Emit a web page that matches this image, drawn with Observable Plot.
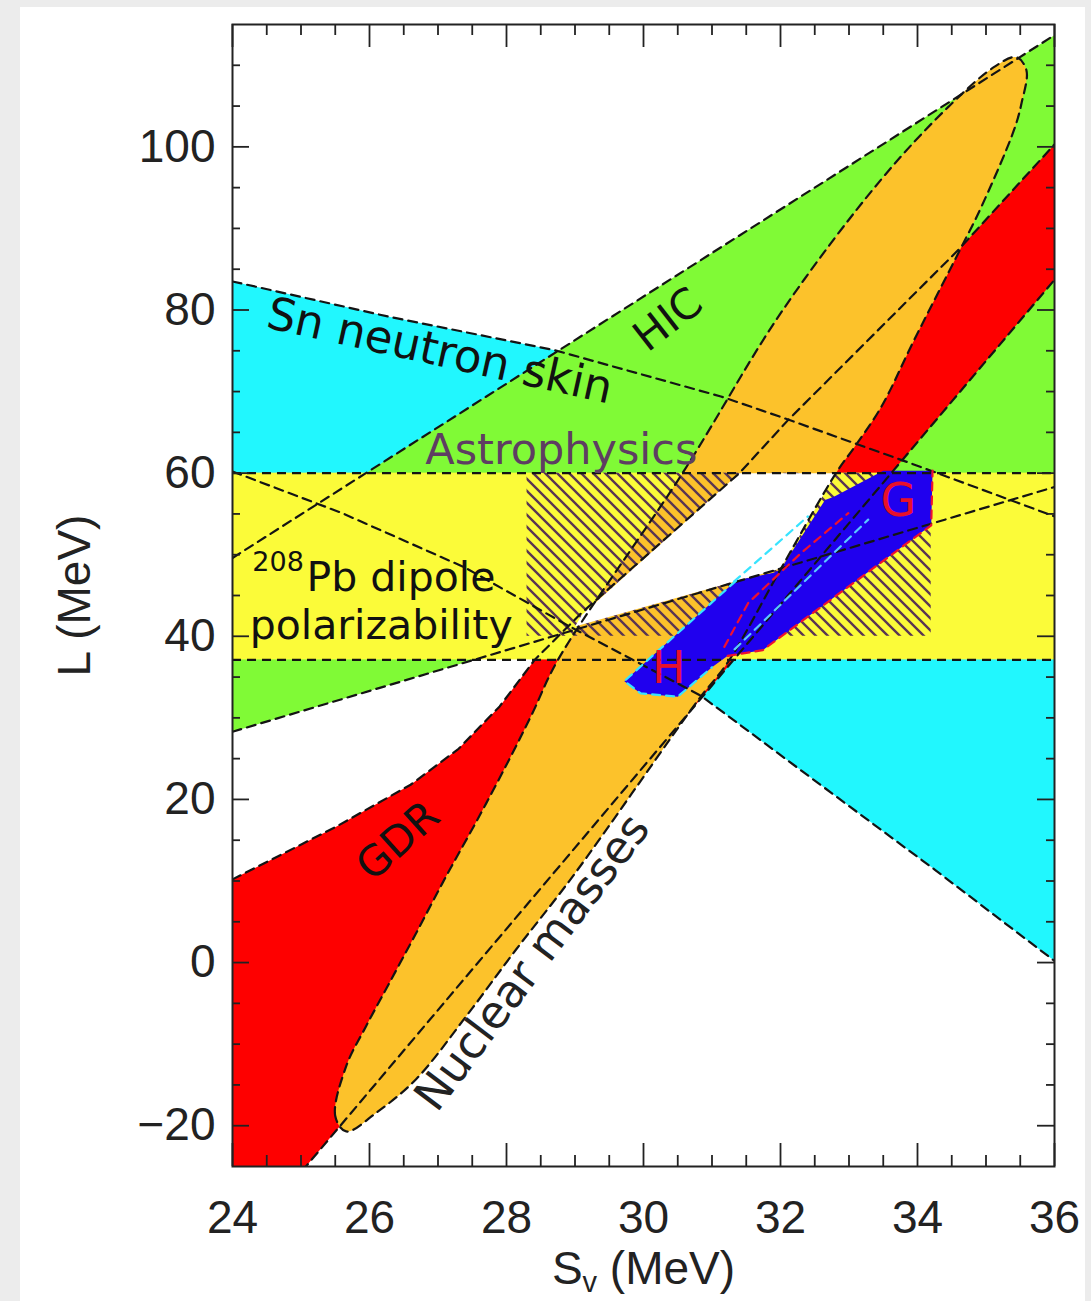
<!DOCTYPE html>
<html>
<head>
<meta charset="utf-8">
<script src="https://cdn.jsdelivr.net/npm/d3@7"></script>
<script src="https://cdn.jsdelivr.net/npm/@observablehq/plot@0.6"></script>
<style>
html, body { margin: 0; padding: 0; background: #ececec; }
#panel { position: absolute; left: 20px; top: 7px; width: 1065px; height: 1294px; background: #ffffff; }
#chart { position: absolute; left: 0; top: 0; }
</style>
</head>
<body>
<div id="panel"></div>
<div id="chart"></div>
<script>
// ---------- axes ----------
const sDomain = [24, 36];
const lDomain = [-25, 115];
const xMajor = [24, 26, 28, 30, 32, 34, 36];
const xMinor = [24.5, 25, 25.5, 26.5, 27, 27.5, 28.5, 29, 29.5, 30.5, 31, 31.5, 32.5, 33, 33.5, 34.5, 35, 35.5];
const yMajor = [-20, 0, 20, 40, 60, 80, 100];
const yMinor = [-15, -10, -5, 5, 10, 15, 25, 30, 35, 45, 50, 55, 65, 70, 75, 85, 90, 95, 105, 110];
const xLabelParts = ["S", "v", " (MeV)"];
const yLabel = "L (MeV)";

// ---------- constraint boundaries [S_v, L] ----------
const snSkinUpper = [[24, 83.5], [26.27, 79.2], [28.69, 75.1], [31.13, 69.4], [32.0, 66.9], [33.87, 61.3], [36, 54.7]];
const snSkinLower = [[24, 60.2], [25.6, 55.1], [27.4, 48.4], [28.9, 41.3], [30.84, 32.7], [32.55, 22.0], [34.25, 11.4], [36, 0.2]];
const hicUpper = [[24, 49.6], [36, 113.7]];
const hicLower = [[24, 28.3], [36, 58.3]];
const gdrUpper = [[24, 10.2], [25.5, 16.6], [26.6, 21.8], [27.3, 26.2], [27.9, 31.4], [28.41, 37.1], [29.1, 42.9], [31.4, 60], [32.11, 66.5], [34.6, 87.4], [36, 100.3]];
const gdrLower = [[24, -27], [24.87, -27], [36, 83.7]];
const dipoleBand = [37.1, 60];
const massesEllipse = [
  [25.66, -20.7], [25.5, -18.8], [25.66, -12.7], [25.95, -7.8], [26.29, -2.5], [26.68, 3.6], [27.12, 10.6],
  [27.6, 17.9], [28.04, 24.9], [28.38, 30.6], [28.75, 37.1], [30.57, 60.0], [32.01, 79.7], [33.47, 96.0],
  [34.45, 104.9], [35.12, 109.8], [35.44, 111.0], [35.59, 109.4], [35.52, 105.4], [35.41, 102.1], [34.93, 92.6],
  [34.64, 87.7], [33.95, 76.3], [33.47, 68.1], [33.08, 63.2], [32.81, 60.0], [32.0, 48.2], [31.23, 36.8],
  [30.8, 32.2], [28.97, 10.6], [28.14, 1.6], [27.41, -6.6], [26.68, -14.3], [26.1, -18.4]
];
const consensus = [[29.0, 41.2], [29.1, 42.6], [31.4, 60], [32.81, 60], [32.0, 48.3]];
const astroS = [28.3, 34.2];
const astroL = [40, 60];
const neutronMatter = [[29.72, 34.5], [29.96, 33.0], [30.5, 32.6], [31.0, 36.2], [31.23, 37.6], [31.74, 38.3], [34.2, 53.6],
  [34.22, 60.3], [33.5, 60.3], [32.78, 57.1], [32.65, 56.7], [32.0, 48.2], [31.9, 47.8], [31.35, 46.8]];
const gOutline = [[31.23, 37.6], [31.74, 38.3], [34.2, 53.6], [34.22, 60.3]];
const gInner = [[31.18, 38.7], [31.53, 44.1], [32.3, 50.2], [32.99, 55.1]];
const hOutline = [[31.35, 46.8], [29.72, 34.5], [29.96, 33.0], [30.5, 32.6], [31.0, 36.2]];
const hInnerA = [[31.32, 46.7], [32.4, 54.7]];
const hInnerB = [[31.33, 38.4], [33.28, 54.3]];

// ---------- labels ----------
const labels = {
  sn: "Sn neutron skin", hic: "HIC", astro: "Astrophysics", pbMass: "208", pb: "Pb dipole",
  pol: "polarizability", gdr: "GDR", masses: "Nuclear masses", h: "H", g: "G"
};

// ---------- layout ----------
const W = 1091, H = 1301;
const M = {top: 24, right: 37, bottom: 135, left: 232};
const innerW = W - M.left - M.right;
const innerH = H - M.top - M.bottom;

const X = d => d[0], Y = d => d[1];
const poly = (pts, fill, curve = "linear-closed") =>
  Plot.line(pts, {x: X, y: Y, fill, stroke: "none", curve, clip: true});
const outline = (pts, opts = {}) =>
  Plot.line(pts, {x: X, y: Y, stroke: "#141414", strokeWidth: 2.2, strokeDasharray: "9,6", clip: true, ...opts});
const lbl = (t, opts) => Plot.text([t], {fontFamily: "DejaVu Sans", fontSize: 42, fill: "#111", ...opts});
const tickStyle = {stroke: "#222", strokeWidth: 1.8};

const svg = Plot.plot({
  width: W, height: H,
  marginTop: M.top, marginRight: M.right, marginBottom: M.bottom, marginLeft: M.left,
  x: {domain: sDomain},
  y: {domain: lDomain},
  style: {background: "transparent", fontFamily: "Liberation Sans", fontSize: "46px", color: "#222"},
  marks: [
    poly(snSkinUpper.concat(snSkinLower.slice().reverse()), "#21f7fe"),
    poly(hicUpper.concat(hicLower.slice().reverse()), "#80fa36"),
    poly(gdrUpper.concat(gdrLower.slice().reverse()), "#fe0000"),
    Plot.rect([dipoleBand], {x1: sDomain[0], x2: sDomain[1], y1: d => d[0], y2: d => d[1], fill: "#fbfb39"}),
    poly(massesEllipse, "#fcc22b", "catmull-rom-closed"),
    Plot.rect([astroL], {x1: astroS[0], x2: astroS[1], y1: d => d[0], y2: d => d[1], fill: "url(#astroHatch)"}),
    poly(consensus, "#ffffff"),
    poly(neutronMatter, "#2000ee"),

    // dashed boundaries
    outline(snSkinUpper), outline(snSkinLower),
    outline(hicUpper), outline(hicLower),
    outline(gdrUpper), outline(gdrLower),
    Plot.ruleY(dipoleBand, {stroke: "#141414", strokeWidth: 2.2, strokeDasharray: "9,6"}),
    outline(massesEllipse, {curve: "catmull-rom-closed"}),
    outline(gOutline, {stroke: "#ee1030", strokeDasharray: "8,6"}),
    outline(gInner, {stroke: "#ee1030", strokeDasharray: "8,6"}),
    outline(hOutline, {stroke: "#38e4ff", strokeDasharray: "8,6"}),
    outline(hInnerA, {stroke: "#38e4ff", strokeDasharray: "8,6"}),
    outline(hInnerB, {stroke: "#58c8ff", strokeDasharray: "8,6"}),

    // region labels
    lbl(labels.sn, {x: 26.98, y: 73.2, rotate: 12.5, lineAnchor: "bottom", fontSize: 45}),
    lbl(labels.hic, {x: 30.36, y: 78.8, rotate: -38}),
    lbl(labels.astro, {x: 28.8, y: 61.15, lineAnchor: "bottom", fontSize: 43, fill: "#5e3e62"}),
    lbl(labels.pbMass, {x: 24.29, y: 48.0, lineAnchor: "bottom", textAnchor: "start", fontSize: 27}),
    lbl(labels.pb, {x: 25.08, y: 45.6, lineAnchor: "bottom", textAnchor: "start", fontSize: 41}),
    lbl(labels.pol, {x: 24.25, y: 39.7, lineAnchor: "bottom", textAnchor: "start", fontSize: 41}),
    lbl(labels.gdr, {x: 26.42, y: 14.9, rotate: -42}),
    lbl(labels.masses, {x: 28.38, y: 0, rotate: -53, fontSize: 45, fill: "#222"}),
    lbl(labels.h, {x: 30.37, y: 36.0, fontSize: 44, fill: "#e8102a"}),
    lbl(labels.g, {x: 33.72, y: 56.5, fontSize: 46, fill: "#e8102a"}),

    // frame, inward ticks, tick labels, axis titles
    Plot.frame({stroke: "#222", strokeWidth: 2}),
    Plot.ruleX(xMajor, {insetTop: innerH - 23, ...tickStyle}),
    Plot.ruleX(xMajor, {insetBottom: innerH - 23, ...tickStyle}),
    Plot.ruleX(xMinor, {insetTop: innerH - 11, ...tickStyle}),
    Plot.ruleX(xMinor, {insetBottom: innerH - 11, ...tickStyle}),
    Plot.ruleY(yMajor, {insetRight: innerW - 17, ...tickStyle}),
    Plot.ruleY(yMajor, {insetLeft: innerW - 17, ...tickStyle}),
    Plot.ruleY(yMinor, {insetRight: innerW - 8, ...tickStyle}),
    Plot.ruleY(yMinor, {insetLeft: innerW - 8, ...tickStyle}),
    Plot.axisX({ticks: xMajor, tickSize: 0, tickPadding: 34, fontSize: 46, label: null, color: "#222"}),
    Plot.axisY({ticks: yMajor, tickSize: 0, tickPadding: 17, fontSize: 46, label: null, color: "#222"}),
    Plot.text([yLabel], {frameAnchor: "left", dx: -157, rotate: -90, textAnchor: "middle", lineAnchor: "middle", fontSize: 46, fill: "#222"}),
    Plot.text([xLabelParts.join("")], {frameAnchor: "bottom", dy: 117, textAnchor: "middle", lineAnchor: "bottom", fontSize: 46, fill: "#222"})
  ]
});

// hatch pattern for the astrophysics region
const defs = d3.select(svg).insert("defs", ":first-child");
const pat = defs.append("pattern").attr("id", "astroHatch").attr("patternUnits", "userSpaceOnUse")
  .attr("width", 12).attr("height", 12);
pat.append("path").attr("d", "M-3,-3L15,15M-3,9L3,15M9,-3L15,3")
  .attr("stroke", "#5a3552").attr("stroke-width", 2.4).attr("fill", "none");

// subscript in the x-axis title
d3.select(svg).selectAll("text")
  .filter(function () { return this.textContent === xLabelParts.join(""); })
  .each(function () {
    const t = d3.select(this);
    t.text(null);
    t.append("tspan").text(xLabelParts[0]);
    t.append("tspan").attr("dy", 8).attr("font-size", 29).text(xLabelParts[1]);
    t.append("tspan").attr("dy", -8).text(xLabelParts[2]);
  });

document.getElementById("chart").appendChild(svg);
</script>
</body>
</html>
